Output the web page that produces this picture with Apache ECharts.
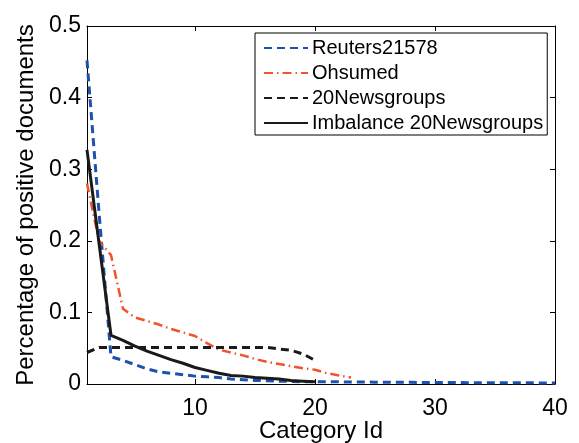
<!DOCTYPE html>
<html>
<head>
<meta charset="utf-8">
<script src="https://cdn.jsdelivr.net/npm/echarts@6/dist/echarts.min.js"></script>
<style>
  html, body { margin: 0; padding: 0; background: #fff; }
  #main { width: 579px; height: 443px; }
</style>
</head>
<body>
<div id="main"></div>
<script>
// values per category id (1, 2, 3, ...)
const reuters = [0.452, 0.24, 0.038, 0.033, 0.027, 0.021, 0.017, 0.015, 0.013, 0.011,
  0.010, 0.009, 0.007, 0.006, 0.005, 0.0045, 0.004, 0.0035, 0.0032, 0.003,
  0.003, 0.003, 0.0028, 0.0027, 0.0026, 0.0025, 0.0024, 0.0023, 0.0022, 0.0021,
  0.002, 0.002, 0.0019, 0.0018, 0.0018, 0.0017, 0.0016, 0.0016, 0.0015, 0.0015];
const ohsumed = [0.28, 0.2, 0.18, 0.105, 0.093, 0.088, 0.083, 0.077, 0.072, 0.067,
  0.057, 0.048, 0.044, 0.04, 0.035, 0.031, 0.028, 0.025, 0.022, 0.02,
  0.015, 0.012, 0.009];
const newsgroups = [0.044, 0.051, 0.051, 0.051, 0.051, 0.051, 0.051, 0.051, 0.051, 0.051,
  0.051, 0.051, 0.051, 0.051, 0.051, 0.051, 0.049, 0.047, 0.042, 0.033];
const imbalance = [0.327, 0.197, 0.068, 0.061, 0.053, 0.046, 0.04, 0.034, 0.029, 0.023,
  0.019, 0.015, 0.012, 0.011, 0.009, 0.008, 0.007, 0.005, 0.004, 0.003];
const names = ['Reuters21578', 'Ohsumed', '20Newsgroups', 'Imbalance 20Newsgroups'];
const xTicks = [10, 20, 30, 40];

const toPairs = arr => arr.map((v, i) => [i + 1, v]);
const font = 'Liberation Sans';

const chart = echarts.init(document.getElementById('main'));

const axisBase = {
  axisLine: { show: true, onZero: false, lineStyle: { color: '#000', width: 1 } },
  axisTick: { show: true, inside: true, length: 5, lineStyle: { color: '#000' } },
  splitLine: { show: false }
};

chart.setOption({
  animation: false,
  backgroundColor: '#fff',
  grid: { left: 87, right: 24, top: 26, bottom: 59, outerBoundsMode: 'none', containLabel: false },
  legend: {
    orient: 'vertical',
    left: 255,
    top: 33,
    padding: [5, 4, 2, 8],
    itemWidth: 44,
    itemHeight: 14,
    itemGap: 5,
    backgroundColor: '#fff',
    borderColor: '#000',
    borderWidth: 1,
    borderRadius: 0,
    itemStyle: { opacity: 0, borderWidth: 0 },
    textStyle: { fontFamily: font, fontSize: 20, color: '#000', padding: [0, 0, 0, -1] },
    data: names
  },
  xAxis: [{
    ...axisBase,
    type: 'value',
    min: 1,
    max: 40,
    name: 'Category Id',
    nameLocation: 'middle',
    nameGap: 35,
    nameMoveOverlap: false,
    nameTextStyle: { fontFamily: font, fontSize: 24, color: '#000' },
    axisTick: { ...axisBase.axisTick, customValues: xTicks },
    axisLabel: { customValues: xTicks, fontFamily: font, fontSize: 23, color: '#000', margin: 13 }
  }, {
    ...axisBase,
    type: 'value',
    position: 'top',
    min: 1,
    max: 40,
    axisTick: { ...axisBase.axisTick, customValues: xTicks },
    axisLabel: { show: false }
  }],
  yAxis: [{
    ...axisBase,
    type: 'value',
    min: 0,
    max: 0.5,
    interval: 0.1,
    name: 'Percentage of positive documents',
    nameLocation: 'middle',
    nameGap: 49,
    nameMoveOverlap: false,
    nameTextStyle: { fontFamily: font, fontSize: 24, color: '#000' },
    axisLabel: { fontFamily: font, fontSize: 23, color: '#000', margin: 6 }
  }, {
    ...axisBase,
    type: 'value',
    position: 'right',
    min: 0,
    max: 0.5,
    interval: 0.1,
    axisLabel: { show: false }
  }],
  series: [
    {
      name: names[0], type: 'line', symbol: 'none', data: toPairs(reuters),
      itemStyle: { color: '#1c51ad' },
      lineStyle: { color: '#1c51ad', width: 3, type: [8, 5] }
    },
    {
      name: names[1], type: 'line', symbol: 'none', data: toPairs(ohsumed),
      itemStyle: { color: '#f2522c' },
      lineStyle: { color: '#f2522c', width: 2.5, type: [9, 4, 1.5, 4] }
    },
    {
      name: names[2], type: 'line', symbol: 'none', data: toPairs(newsgroups),
      itemStyle: { color: '#1a1a1a' },
      lineStyle: { color: '#1a1a1a', width: 3, type: [8, 5] }
    },
    {
      name: names[3], type: 'line', symbol: 'none', data: toPairs(imbalance),
      itemStyle: { color: '#1a1a1a' },
      lineStyle: { color: '#1a1a1a', width: 3, type: 'solid' }
    }
  ]
});
</script>
</body>
</html>
